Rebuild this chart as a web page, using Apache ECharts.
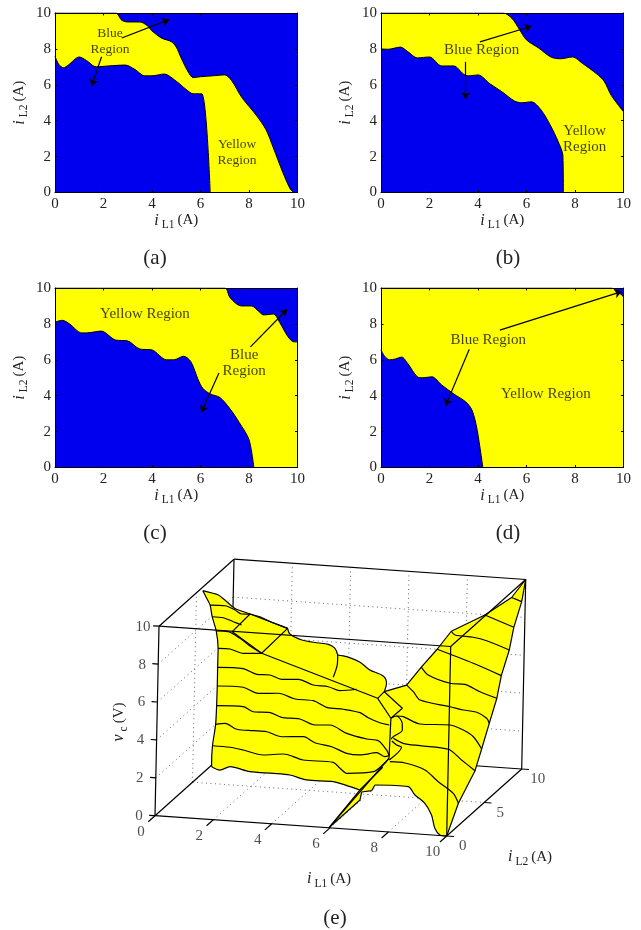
<!DOCTYPE html>
<html><head><meta charset="utf-8">
<style>html,body{margin:0;padding:0;background:#fff}#c{width:641px;height:930px}</style>
<script src="https://cdn.jsdelivr.net/npm/echarts@6/dist/echarts.min.js"></script>
</head><body><div id="c"></div>
<script>
// ---- Panel data: switching boundaries [iL1, iL2] ----
const upperA=[[0,10],[2.5,10],[2.75,9.6],[3,9.5],[3.5,9.5],[3.8,9.3],[4,9],[4.4,8.6],[4.8,8.4],[5,8.1],[5.2,7.5],[5.5,6.7],[5.7,6.4],[6,6.45],[6.5,6.5],[7,6.55],[7.3,6.2],[7.7,5.3],[8.3,4.3],[8.7,3.5],[9,2.5],[9.4,1.1],[9.7,0.2],[9.85,0]];
const lowerA=[[0,7.6],[0.15,7.15],[0.35,6.95],[0.55,7.1],[1,7.55],[1.3,7.35],[1.7,7],[2.2,7.05],[2.9,7.1],[3.3,6.85],[3.7,6.5],[4,6.5],[4.5,6.6],[5,6.2],[5.4,5.75],[5.7,5.5],[6.05,5.5],[6.4,0]];
const upperB=[[0,10],[5.04,10],[5.4,9.7],[5.7,9.1],[6,8.5],[6.5,8.05],[7,7.55],[7.4,7.45],[7.9,7.55],[8.3,7.2],[8.9,6.6],[9.2,6.2],[9.5,5.4],[10,4.5]];
const lowerB=[[0,8],[0.3,7.98],[0.8,8.1],[1.1,7.85],[1.5,7.5],[2,7.55],[2.5,7.05],[3,7.05],[3.4,6.6],[3.6,6.5],[4,6.55],[4.5,6.05],[5,5.6],[5.5,5.1],[5.8,5],[6.2,5.05],[6.6,4.6],[7,3.7],[7.3,2.85],[7.5,2.05],[7.52,0]];
const upperC=[[0,10],[7,10],[7.2,9.5],[7.5,9.1],[7.7,9],[8.1,9],[8.4,8.7],[8.6,8.5],[9,8.55],[9.3,8],[9.6,7.3],[9.85,7],[10,7]];
const lowerC=[[0,8.1],[0.3,8.2],[0.6,8],[1.1,7.5],[1.3,7.5],[1.9,7.6],[2.5,7.1],[3,7.05],[3.5,6.6],[4,6.55],[4.6,6],[4.9,6],[5.3,6.2],[5.6,5.9],[5.9,4.9],[6.1,4.4],[6.4,4.1],[6.8,3.9],[7.2,3.3],[7.6,2.5],[8,1.55],[8.2,0]];
const upperD=[[0,10],[9.5,10],[10,9.5]];
const lowerD=[[0,6.55],[0.15,6.2],[0.35,6],[0.6,6.05],[0.85,6.15],[1.1,5.8],[1.5,5.05],[1.7,5],[2.1,5.05],[2.5,4.6],[3,4.1],[3.5,3.65],[3.75,3.2],[3.95,2.2],[4.2,0]];
// region labels and arrows
const regionText=['Blue\nRegion','Yellow\nRegion','Blue Region','Yellow Region'];
const labelsA=[[2.27,8.44,0],[7.51,2.24,1]];
const labelsB=[[4.15,7.93,2],[8.4,2.98,1]];
const labelsC=[[3.71,8.56,3],[7.8,5.81,0]];
const labelsD=[[4.42,7.11,2],[6.8,4.09,3]];
const arrowsA=[[[2.75,8.61],[4.71,9.63]],[[1.92,7.56],[1.51,5.93]]];
const arrowsB=[[[4.08,8.39],[6.21,9.26]],[[3.49,7.28],[3.49,5.19]]];
const arrowsC=[[[8.06,6.72],[9.57,8.8]],[[6.76,5.26],[6.03,3.06]]];
const arrowsD=[[[4.9,7.65],[9.92,9.8]],[[3.64,6.59],[2.66,3.43]]];
const captions=['(a)','(b)','(c)','(d)','(e)'];

// ---- Surface (e): outline pieces [iL1, iL2, vc] ----
const edgeLeft=[[0.06,7.33,0],[0.03,7.42,0.1],[0,7.61,1],[0,7.98,2],[0.03,7.94,3],[0.01,8.05,4],[0.02,8.01,5],[0.02,8.02,6],[0,7.79,7],[0.03,7.08,8],[0.21,6.05,9],[0.11,5.85,9.5],[0.13,5.34,10]];
const edgeTopLeft=[[0.13,5.34,10],[0.51,5.94,9.6],[0.7,6.1,9.3],[1.06,5.6,9.2],[1.27,5.45,9.1],[1.8,5.19,9],[1.55,7.54,8],[2.12,6.88,8],[2.18,8.83,7]];
const edgeBackA=[[2.18,8.83,7],[1.97,10,6.26],[2.38,10,5.99],[2.89,10,5.9],[3.29,10,5.86],[3.52,10,5.67],[3.62,10,5.33]];
const edgeBackB=[[3.62,10,5.33],[3.93,10,5.28],[4.39,10,5.03],[4.73,10,4.66],[5.19,10,4.39],[5.31,10,4.02],[5.24,10,3.57]];
const edgeRightTop=[[5.24,10,3.57],[6,10,4],[6.49,10,5],[7.02,10,6],[7.49,10,7],[8.64,9.95,8],[9.53,10,9],[10,10,10]];
const edgeRight=[[10,10,10],[10,9.52,9],[10,8.52,8],[10,7.97,7],[10,6.96,6],[10,6.42,5],[9.99,5.5,4],[10,4.5,3],[9.9,4.06,2],[9.87,2.01,1],[10,0,0]];
const edgeBottomRight=[[10,0,0],[9.75,0.07,0],[9.35,0.95,0],[8.77,2.76,0],[8.14,4.32,0],[7.53,5.37,0],[7.02,6.46,0],[5.9,6.37,0]];
const edgeSpike=[[5.9,6.37,0],[6,5.55,0],[5.73,5.27,0],[5.96,4.15,0],[5.96,0,0],[5.6,5.53,0]];
const edgeBottomLeft=[[5.6,5.53,0],[5.17,5.9,0],[4.46,6.43,0],[3.55,6.41,0],[2.84,6.94,0],[2.25,7.01,0],[1.45,7.01,0],[0.64,7.51,0],[0.44,6.95,0],[0.06,7.33,0]];
// constant-vc contours, left sheet [iL1, iL2]
const left1=[[0,7.61],[0.61,7.57],[1.13,7.32],[1.94,6.82],[2.55,7.15],[3.39,6.51],[4.43,6.48],[4.86,5.72],[5.25,5.09],[6.04,5.57],[6.09,6.84],[6.06,7.58]];
const left2=[[0,7.98],[0.26,8.21],[0.85,7.5],[1.42,7.46],[1.89,7.45],[2.54,6.9],[3.23,7.11],[3.81,6.39],[4.49,6],[5.2,5.23],[5.68,5.13],[6.13,5.6],[6.54,5.13],[6.63,5.31]];
const left3=[[0.03,7.94],[0.91,8.06],[1.41,7.46],[1.98,7.49],[2.51,6.96],[3.15,6.9],[3.84,6.22],[4.32,6.36],[5.15,5.37],[5.99,4.78],[6.42,4.65],[7.01,3.45],[7.3,2.68]];
const left4=[[0.01,8.05],[0.88,8.12],[1.58,7.43],[2.21,7.63],[2.95,7],[3.59,6.94],[4.25,6.15],[4.85,6.04],[5.5,5.73],[5.94,5.11],[6.49,4.53],[6.87,4.31]];
const left5=[[0.02,8.01],[0.88,8.07],[1.51,7.42],[1.96,7.45],[2.48,6.97],[3.01,7.13],[3.69,6.48],[4.23,6.39],[4.74,5.95],[5.22,6.31]];
const left6=[[0.02,8.02],[0.42,8.04],[1,7.57],[1.58,7.75]];
const left7=[[0,7.79],[0.41,7.79],[1.02,6.99],[1.61,6.02],[2.25,5.12]];
const left8=[[0.03,7.08],[0.42,7.05],[0.88,6.59],[1.26,6.22]];
const left9=[[0.21,6.05],[0.71,6.1],[1.18,5.6],[1.53,5.11],[1.8,5.19]];
// constant-vc contours, right sheet [iL1, iL2]
const right1=[[6.21,7.11],[6.74,7.08],[7.62,6.3],[8.46,4.81],[9.35,3.35],[9.87,2.01]];
const right2=[[6.15,7.76],[6.64,7.16],[7.26,6.99],[8.29,6.77],[9.09,5.41],[9.9,4.06]];
const right3=[[6.12,8.25],[6.36,8.22],[7.15,7.37],[8.14,7.52],[8.74,6.95],[9.3,6.12],[10,4.5]];
const right4=[[6,10],[6.45,9.15],[6.96,8.06],[8.15,7.42],[8.69,7.1],[9.2,6.91],[9.73,6.17],[9.99,5.5]];
const right5=[[6.49,10],[6.99,8.98],[7.98,8.04],[8.49,8.04],[9.23,7.16],[10,6.42]];
const right6=[[7.02,10],[8.67,8.4],[10,6.96]];
const right7=[[7.49,10],[7.74,9.52],[8.4,9.38],[8.95,9.03],[10,7.97]];
const right8=[[8.64,9.95],[10,8.52]];
const right9=[[9.53,10],[10,9.52]];
// fold lines on the surface [iL1, iL2, vc]
const foldQuadA=[[0.54,7.83,7],[1.8,5.19,9],[2.18,8.83,7],[1.58,7.75,6],[0.54,7.83,7]];
const foldDiagonal=[[1.58,7.75,6],[5.55,7.89,4]];
const foldShort=[[3.62,10,5.33],[3.74,9.48,5],[4.05,7.74,5]];
const foldQuadB=[[5.24,10,3.57],[6.03,9.37,3],[6.02,7.88,3],[5.55,7.89,4],[5.24,10,3.57]];
const foldSeam=[[6.02,7.88,3],[6.06,7.58,1]];
const foldCurve3=[[6.02,7.88,3],[6.12,8.25,3],[6.56,7.29,3],[6.8,6.37,3],[6.75,5.35,3],[6.76,5.01,3]];
const foldCurve2=[[6.2,7.37,2],[6.49,6.86,2],[6.73,6.59,2],[6.79,4.72,2]];
const sliverA=[[6.06,7.58,1],[5.96,0,0]];
const sliverB=[[5.6,5.53,0],[6.18,6.27,1]];
// 3-D axis ticks
const ticksL1=[0,2,4,6,8,10];
const ticksL2=[0,5,10];
const ticksV=[0,2,4,6,8,10];
const gridL1=[2,4,6,8];
const gridV=[2,4,6,8];

// ---- helpers ----
const FONT='"Liberation Serif","Times New Roman",serif', INK='#222', BLUE='#0000ee', YEL='#ffff00';
const nameRich={i:{fontFamily:FONT,fontStyle:'italic',fontSize:16,color:INK},
  s:{fontFamily:FONT,fontSize:11.5,color:INK,padding:[9,0,0,3]},
  a:{fontFamily:FONT,fontSize:15,color:INK,padding:[0,0,0,3]}};
const ORG=[155,815.7], EX=[29.17,2.03], EY=[7.5,-6.7], EZ=[0.4,-18.95];
const P=(a,b,c)=>[ORG[0]+EX[0]*a+EY[0]*b+EZ[0]*c, ORG[1]+EX[1]*a+EY[1]*b+EZ[1]*c];
const proj=arr=>arr.map(p=>P(p[0],p[1],p[2]));
const level=(arr,v)=>arr.map(p=>P(p[0],p[1],v));

const grids=[],xAxes=[],yAxes=[],series=[];
const panels=[
 {left:55,top:13,u:upperA,l:lowerA,t:labelsA,r:arrowsA,fs:13.5},
 {left:381,top:13,u:upperB,l:lowerB,t:labelsB,r:arrowsB,fs:15},
 {left:55,top:288,u:upperC,l:lowerC,t:labelsC,r:arrowsC,fs:15},
 {left:381,top:288,u:upperD,l:lowerD,t:labelsD,r:arrowsD,fs:15}];
const hair={color:'#000',width:1};
panels.forEach((p,k)=>{
  grids.push({left:p.left,top:p.top,width:242.5,height:179.5,show:true,backgroundColor:BLUE,borderWidth:0});
  const base={min:0,max:10,interval:2,type:'value',gridIndex:k,splitLine:{show:false},z:10,
    axisLine:{show:true,onZero:false,lineStyle:hair},axisTick:{show:true,inside:true,length:2.5,lineStyle:hair}};
  const lab={fontFamily:FONT,fontSize:15,color:INK,margin:4};
  xAxes.push({...base,position:'bottom',axisLabel:{...lab,margin:4},name:'{i|i}{s|L1}{a|(A)}',nameLocation:'middle',nameGap:16,nameTextStyle:{rich:nameRich}});
  yAxes.push({...base,position:'left',axisLabel:lab,name:'{i|i}{s|L2}{a|(A)}',nameLocation:'middle',nameGap:25,nameTextStyle:{rich:nameRich}});
});
panels.forEach((p,k)=>{
  const base={min:0,max:10,interval:2,type:'value',gridIndex:k,splitLine:{show:false},z:10,axisLabel:{show:false},
    axisLine:{show:true,onZero:false,lineStyle:hair},axisTick:{show:true,inside:true,length:2.5,lineStyle:hair}};
  xAxes.push({...base,position:'top'}); yAxes.push({...base,position:'right'});
});
panels.forEach((p,k)=>{
  const area=(name,d,c,z)=>({name,type:'line',z,xAxisIndex:k,yAxisIndex:k,data:d,smooth:0.3,showSymbol:false,
    lineStyle:{color:'#000',width:1},areaStyle:{color:c,opacity:1},silent:true,animation:false});
  series.push(area('yellow'+k,p.u,YEL,1),area('blue'+k,p.l,BLUE,2));
  series.push({name:'labels'+k,type:'scatter',z:6,clip:false,xAxisIndex:k,yAxisIndex:k,data:p.t,symbolSize:0,silent:true,animation:false,
    label:{show:true,position:'inside',formatter:o=>regionText[o.data[2]],fontFamily:FONT,fontSize:p.fs,lineHeight:16,color:'#111'},
    markLine:{silent:true,animation:false,symbol:['none','arrow'],symbolSize:7,precision:4,label:{show:false},lineStyle:{color:'#000',width:1.2,type:'solid'},
      data:p.r.map(a=>[{coord:a[0]},{coord:a[1]}])}});
});
// hidden plane for the oblique 3-D box
const H=panels.length*2;
grids.push({left:0,top:0,width:641,height:930,show:false});
xAxes.push({type:'value',gridIndex:4,min:0,max:641,show:false});
yAxes.push({type:'value',gridIndex:4,min:0,max:930,inverse:true,show:false});
const line3=(name,data,o={})=>series.push({name,type:'line',z:o.z||5,xAxisIndex:H,yAxisIndex:H,data,showSymbol:false,smooth:o.smooth||false,clip:false,silent:true,animation:false,
  lineStyle:{color:o.color||'#000',width:o.width||1.2,type:o.type||'solid'}});
const dots={color:'#666',type:[1,3.5],width:1,z:1};
gridL1.forEach(a=>{line3('gridF'+a,proj([[a,0,0],[a,10,0]]),dots);line3('gridB'+a,proj([[a,10,0],[a,10,10]]),dots);});
line3('gridF5',proj([[0,5,0],[10,5,0]]),dots);line3('gridW5',proj([[0,5,0],[0,5,10]]),dots);
gridV.forEach(v=>{line3('gridL'+v,proj([[0,0,v],[0,10,v]]),dots);line3('gridK'+v,proj([[0,10,v],[10,10,v]]),dots);});
[[[0,0,0],[0,10,0]],[[0,10,0],[10,10,0]],[[0,10,0],[0,10,10]],[[0,0,10],[0,10,10]],[[0,10,10],[10,10,10]],[[10,10,0],[10,10,10]],[[0,0,0],[0,0,10]]]
  .forEach((e,i)=>line3('boxBack'+i,proj(e),{z:1}));
// surface fill
const outline=[].concat(edgeLeft,edgeTopLeft,edgeBackA,edgeBackB,edgeRightTop,edgeRight,edgeBottomRight,edgeSpike,edgeBottomLeft);
series.push({name:'surface',type:'custom',z:3,xAxisIndex:H,yAxisIndex:H,coordinateSystem:'cartesian2d',data:proj(outline),silent:true,animation:false,clip:false,
  renderItem:(params,api)=>{ if(params.dataIndex!==0) return {type:'group',children:[]};
    return {type:'polygon',shape:{points:proj(outline).map(p=>api.coord(p))},style:{fill:YEL,stroke:null}}; }});
[[left1,1],[left2,2],[left3,3],[left4,4],[left5,5],[left6,6],[left7,7],[left8,8],[left9,9],
 [right1,1],[right2,2],[right3,3],[right4,4],[right5,5],[right6,6],[right7,7],[right8,8],[right9,9]]
  .forEach((c,i)=>line3('contour'+i,level(c[0],c[1]),{smooth:0.3}));
line3('edgeLeft',proj(edgeLeft),{smooth:0.2});
line3('edgeTopLeft',proj(edgeTopLeft.slice(0,6)),{smooth:0.2});
line3('edgeTopLeft2',proj(edgeTopLeft.slice(5)),{});
line3('edgeBackA',proj(edgeBackA),{smooth:0.3});
line3('edgeBackB',proj(edgeBackB),{smooth:0.3});
line3('edgeRightTop',proj(edgeRightTop));
line3('edgeRight',proj(edgeRight));
line3('edgeBottomRight',proj(edgeBottomRight),{smooth:0.3});
line3('edgeSpike',proj(edgeSpike));
line3('edgeBottomLeft',proj(edgeBottomLeft),{smooth:0.3});
[foldQuadA,foldDiagonal,foldQuadB,foldSeam,sliverA,sliverB].forEach((f,i)=>line3('fold'+i,proj(f)));
[foldShort,foldCurve3,foldCurve2].forEach((f,i)=>line3('foldC'+i,proj(f),{smooth:0.3}));
[[[0,0,10],[10,0,10]],[[10,0,10],[10,10,10]],[[10,0,0],[10,0,10]],[[0,0,0],[10,0,0]],[[10,0,0],[10,10,0]]]
  .forEach((e,i)=>line3('boxFront'+i,proj(e),{width:1.2,z:7}));
ticksL1.forEach(a=>line3('tickX'+a,proj([[a,0,0],[a,-0.9,0]]),{z:7}));
ticksL2.forEach(b=>line3('tickY'+b,proj([[10,b,0],[10.25,b,0]]),{z:7}));
ticksV.forEach(c=>line3('tickZ'+c,proj([[0,0,c],[-0.2,0,c]]),{z:7}));
const tickLabels=(name,d,lab)=>series.push({name,type:'scatter',z:8,xAxisIndex:H,yAxisIndex:H,data:d,symbolSize:0,silent:true,animation:false,clip:false,
  label:{show:true,position:'inside',formatter:o=>String(o.data[2]),fontFamily:FONT,fontSize:15,color:INK,...lab}});
tickLabels('labX',ticksL1.map(a=>[...P(a,0,0),a]),{offset:[-14,16.5]});
tickLabels('labY',ticksL2.map(b=>[...P(10,b,0),b]),{offset:[16,10.5]});
tickLabels('labZ',ticksV.map(c=>[...P(0,0,c),c]),{offset:[-16,0.5]});

const cap=(t,x,y)=>({type:'text',x,y,style:{text:t,fontFamily:FONT,fontSize:21,fill:INK,align:'center',verticalAlign:'middle'}});
const nameEl=(t,x,y,rot)=>({type:'text',x,y,rotation:rot||0,style:{text:t,rich:nameRich,fill:INK,align:'center',verticalAlign:'middle'}});
const graphic=[cap(captions[0],155,258),cap(captions[1],508,258),cap(captions[2],155,533),cap(captions[3],508,533),cap(captions[4],335,918),
  nameEl('{i|i}{s|L1}{a|(A)}',329,879),nameEl('{i|i}{s|L2}{a|(A)}',530,857),
  nameEl('{i|v}{s|c}{a|(V)}',119,722,Math.PI/2)];

const chart=echarts.init(document.getElementById('c'),null,{renderer:'canvas'});
chart.setOption({animation:false,backgroundColor:'#fff',grid:grids,xAxis:xAxes,yAxis:yAxes,series,graphic,tooltip:{show:false},legend:{show:false}});
</script></body></html>
